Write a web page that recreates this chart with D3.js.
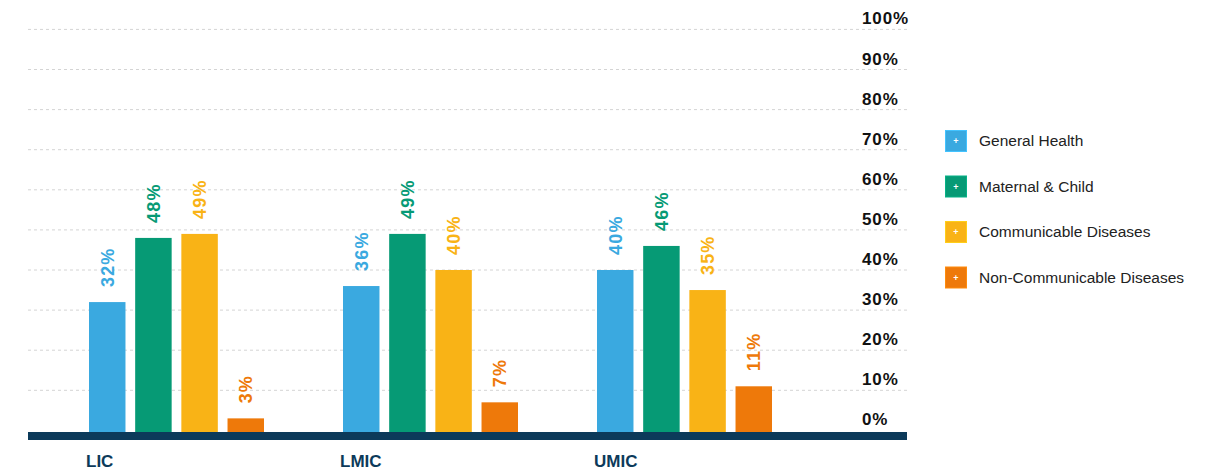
<!DOCTYPE html>
<html>
<head>
<meta charset="utf-8">
<script src="https://cdn.jsdelivr.net/npm/d3@7"></script>
<style>
  body { margin: 0; background: #fff; }
  svg { display: block; font-family: "Liberation Sans", Arial, sans-serif; }
</style>
</head>
<body>
<script>
// Data
var categories = ['LIC', 'LMIC', 'UMIC'];
var series = ['General Health', 'Maternal & Child', 'Communicable Diseases', 'Non-Communicable Diseases'];
var generalHealth = [32, 36, 40];
var maternalChild = [48, 49, 46];
var communicable = [49, 40, 35];
var nonCommunicable = [3, 7, 11];
var tickValues = [0, 10, 20, 30, 40, 50, 60, 70, 80, 90, 100];

var colors = ['#3aa9e0', '#069a75', '#f9b316', '#ee790a'];
var navy = '#0c3a5a';

var width = 1229,
    height = 472;

var rows = categories.map(function(c, i) {
  return {
    cat: c,
    values: [generalHealth[i], maternalChild[i], communicable[i], nonCommunicable[i]]
  };
});

var svg = d3.select('body').append('svg')
    .attr('width', width)
    .attr('height', height);

// Scales
var y = d3.scaleLinear()
    .domain([0, 100])
    .range([430.4, 29.4]);

var x0 = d3.scaleBand()
    .domain(categories)
    .range([89, 89 + 254 * 2 + 175])
    .paddingInner(79 / 254)
    .paddingOuter(0);

var x1 = d3.scaleBand()
    .domain(series)
    .range([0, x0.bandwidth()])
    .paddingInner(0.21)
    .paddingOuter(0);

// Gridlines
svg.selectAll('.grid')
    .data(tickValues.filter(function(d) { return d > 0; }))
    .enter()
    .append('line')
    .attr('class', 'grid')
    .attr('x1', 28)
    .attr('x2', 907)
    .attr('y1', function(d) { return y(d); })
    .attr('y2', function(d) { return y(d); })
    .attr('stroke', '#d4d4d4')
    .attr('stroke-width', 1)
    .attr('stroke-dasharray', '3,3');

// Tick labels on the right
svg.selectAll('.tick-label')
    .data(tickValues)
    .enter()
    .append('text')
    .attr('class', 'tick-label')
    .attr('x', 862)
    .attr('y', function(d) { return y(d) - 5; })
    .attr('font-size', '17px')
    .attr('font-weight', 'bold')
    .attr('letter-spacing', '0.9px')
    .attr('fill', '#111')
    .text(function(d) { return d + '%'; });

// Bars
var groups = svg.selectAll('.group')
    .data(rows)
    .enter()
    .append('g')
    .attr('class', 'group')
    .attr('transform', function(d) { return 'translate(' + x0(d.cat) + ',0)'; });

groups.selectAll('rect')
    .data(function(d) { return d.values; })
    .enter()
    .append('rect')
    .attr('x', function(d, i) { return x1(series[i]); })
    .attr('y', function(d) { return y(d); })
    .attr('width', x1.bandwidth())
    .attr('height', function(d) { return 433 - y(d); })
    .attr('fill', function(d, i) { return colors[i]; });

// Value labels (rotated)
groups.selectAll('.val')
    .data(function(d) { return d.values; })
    .enter()
    .append('text')
    .attr('class', 'val')
    .attr('transform', function(d, i) {
      return 'translate(' + (x1(series[i]) + x1.bandwidth() / 2) + ',' + (y(d) - 15) + ') rotate(-90)';
    })
    .attr('dy', '0.36em')
    .attr('text-anchor', 'start')
    .attr('font-size', '18px')
    .attr('font-weight', 'bold')
    .attr('letter-spacing', '1.2px')
    .attr('fill', function(d, i) { return colors[i]; })
    .text(function(d) { return d + '%'; });

// Baseline band
svg.append('rect')
    .attr('x', 28)
    .attr('y', 432)
    .attr('width', 907 - 28)
    .attr('height', 8)
    .attr('fill', navy);

// Category labels
svg.selectAll('.cat')
    .data(categories)
    .enter()
    .append('text')
    .attr('class', 'cat')
    .attr('x', function(d) { return x0(d) - 3; })
    .attr('y', 467)
    .attr('font-size', '17px')
    .attr('font-weight', 'bold')
    .attr('fill', navy)
    .text(function(d) { return d; });

// Legend
var legend = svg.selectAll('.legend')
    .data(series)
    .enter()
    .append('g')
    .attr('class', 'legend')
    .attr('transform', function(d, i) { return 'translate(945,' + (141 + i * 45.5) + ')'; });

legend.append('rect')
    .attr('x', 0.5)
    .attr('y', -10.5)
    .attr('width', 21)
    .attr('height', 21)
    .attr('fill', function(d, i) { return colors[i]; })
    .attr('stroke', function(d, i) { return d3.color(colors[i]).brighter(0.4); })
    .attr('stroke-width', 1);

legend.append('text')
    .attr('x', 11)
    .attr('y', 0)
    .attr('dy', '0.35em')
    .attr('text-anchor', 'middle')
    .attr('font-size', '9px')
    .attr('font-weight', 'bold')
    .attr('fill', '#fff')
    .text('+');

legend.append('text')
    .attr('x', 34)
    .attr('y', 0)
    .attr('dy', '0.35em')
    .attr('font-size', '15.5px')
    .attr('fill', '#222')
    .text(function(d) { return d; });
</script>
</body>
</html>
